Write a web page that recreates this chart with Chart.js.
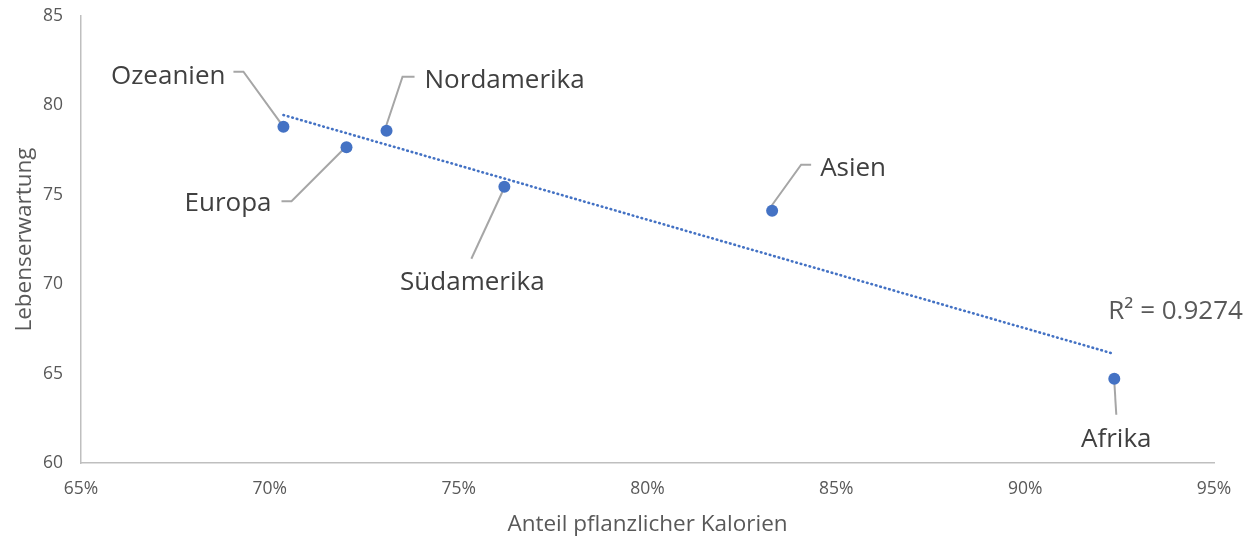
<!DOCTYPE html>
<html lang="de">
<head>
<meta charset="utf-8">
<title>Lebenserwartung und Anteil pflanzlicher Kalorien</title>
<script src="https://cdn.jsdelivr.net/npm/chart.js@4.4.1/dist/chart.umd.min.js"></script>
<style>
  html, body { margin: 0; padding: 0; background: #ffffff; }
  #wrap { width: 1256px; height: 538px; }
</style>
</head>
<body>
<div id="wrap"><canvas id="chart" width="1256" height="538"></canvas></div>
<script>
// Regions and their values
const regions = ['Ozeanien', 'Europa', 'Nordamerika', 'Südamerika', 'Asien', 'Afrika'];
const plantShare = [70.36, 72.03, 73.09, 76.21, 83.30, 92.36];      // Anteil pflanzlicher Kalorien (%)
const lifeExpectancy = [78.81, 77.66, 78.58, 75.45, 74.11, 64.71];  // Lebenserwartung (Jahre)

// Axis ticks and texts
const xTickValues = [65, 70, 75, 80, 85, 90, 95];
const yTickValues = [60, 65, 70, 75, 80, 85];
const xTitle = 'Anteil pflanzlicher Kalorien';
const yTitle = 'Lebenserwartung';
const rSquaredText = 'R² = 0.9274';

// Least-squares linear trend across the data range
function linearTrend(xs, ys) {
  const n = xs.length;
  const mx = xs.reduce((a, b) => a + b, 0) / n;
  const my = ys.reduce((a, b) => a + b, 0) / n;
  let sxy = 0, sxx = 0;
  for (let i = 0; i < n; i++) {
    sxy += (xs[i] - mx) * (ys[i] - my);
    sxx += (xs[i] - mx) * (xs[i] - mx);
  }
  const slope = sxy / sxx;
  const icpt = my - slope * mx;
  const x0 = Math.min(...xs), x1 = Math.max(...xs);
  return [{ x: x0, y: icpt + slope * x0 }, { x: x1, y: icpt + slope * x1 }];
}

const BLUE = '#4472C4';
const TEXT_DARK = '#404040';
const TEXT_GREY = '#595959';
const AXIS_GREY = '#bfbfbf';
const LEADER_GREY = '#a6a6a6';
const FONT = '"Open Sans", "Noto Sans", sans-serif';

// Label placement relative to each point (pixels): leader path and text anchor
const labelLayout = {
  'Ozeanien':    { leader: [[-3, -4], [-40, -55], [-50, -55]], tx: -58, ty: -52, align: 'right' },
  'Europa':      { leader: [[-4, 3], [-55, 54], [-65, 54]],    tx: -75, ty: 54,  align: 'right' },
  'Nordamerika': { leader: [[-1, -3], [16, -54], [28, -54]],   tx: 38,  ty: -52, align: 'left' },
  'Südamerika':  { leader: [[-1, 3], [-33, 72]],               tx: -32, ty: 94,  align: 'center' },
  'Asien':       { leader: [[-2, -3], [29, -46], [39, -46]],   tx: 48,  ty: -44, align: 'left' },
  'Afrika':      { leader: [[0, 3], [2, 36]],                  tx: 2,   ty: 59,  align: 'center' }
};
const LABEL_SIZE = 26;
const TITLE_SIZE = 22.5;
const TICK_SIZE = 17.5;

const pointData = plantShare.map((x, i) => ({ x: x, y: lifeExpectancy[i] }));
const trendData = linearTrend(plantShare, lifeExpectancy);

// Draws leader lines, data labels, the R² label and axis titles
const annotations = {
  id: 'annotations',
  beforeDatasetsDraw(chart) {
    const ctx = chart.ctx;
    const meta = chart.getDatasetMeta(0);
    ctx.save();
    ctx.strokeStyle = LEADER_GREY;
    ctx.lineWidth = 2;
    ctx.lineJoin = 'miter';
    regions.forEach((name, i) => {
      const p = meta.data[i];
      const cfg = labelLayout[name];
      ctx.beginPath();
      cfg.leader.forEach(([dx, dy], k) => {
        if (k === 0) ctx.moveTo(p.x + dx, p.y + dy);
        else ctx.lineTo(p.x + dx, p.y + dy);
      });
      ctx.stroke();
    });
    ctx.restore();
  },
  afterDatasetsDraw(chart) {
    const ctx = chart.ctx;
    const meta = chart.getDatasetMeta(0);
    const area = chart.chartArea;
    ctx.save();
    // data labels
    ctx.font = LABEL_SIZE + 'px ' + FONT;
    ctx.fillStyle = TEXT_DARK;
    ctx.textBaseline = 'alphabetic';
    regions.forEach((name, i) => {
      const p = meta.data[i];
      const cfg = labelLayout[name];
      ctx.textAlign = cfg.align;
      ctx.fillText(name, p.x + cfg.tx, p.y + cfg.ty + LABEL_SIZE * 0.357);
    });
    // R² next to the end of the trend line
    const tMeta = chart.getDatasetMeta(1);
    const endPt = tMeta.data[tMeta.data.length - 1];
    ctx.fillStyle = TEXT_GREY;
    ctx.textAlign = 'left';
    ctx.fillText(rSquaredText, endPt.x - 6, endPt.y - 44 + LABEL_SIZE * 0.357);
    // axis titles
    ctx.font = TITLE_SIZE + 'px ' + FONT;
    ctx.fillStyle = TEXT_GREY;
    ctx.textAlign = 'center';
    ctx.fillText(xTitle, (area.left + area.right) / 2, 523 + TITLE_SIZE * 0.357);
    ctx.translate(23, (area.top + area.bottom) / 2);
    ctx.rotate(-Math.PI / 2);
    ctx.fillText(yTitle, 0, TITLE_SIZE * 0.357);
    ctx.restore();
  }
};

new Chart(document.getElementById('chart'), {
  type: 'scatter',
  data: {
    datasets: [
      {
        label: 'Regionen',
        data: pointData,
        backgroundColor: BLUE,
        borderColor: BLUE,
        pointRadius: 6,
        pointHoverRadius: 6,
        borderWidth: 0,
        order: 1
      },
      {
        label: 'Trend',
        data: trendData,
        showLine: true,
        borderColor: BLUE,
        borderWidth: 2.6,
        borderDash: [0.6, 4],
        borderCapStyle: 'round',
        pointRadius: 0,
        fill: false,
        order: 2
      }
    ]
  },
  options: {
    responsive: false,
    devicePixelRatio: 1,
    animation: false,
    events: [],
    layout: { padding: { top: 16, right: 42, left: 0, bottom: 0 } },
    plugins: {
      legend: { display: false },
      tooltip: { enabled: false },
      title: { display: false }
    },
    scales: {
      x: {
        type: 'linear',
        min: 65,
        max: 95,
        afterBuildTicks: (scale) => { scale.ticks = xTickValues.map(v => ({ value: v })); },
        afterFit: (scale) => { scale.height = 75; },
        ticks: {
          color: TEXT_GREY,
          font: { family: FONT, size: TICK_SIZE },
          padding: 16,
          maxRotation: 0,
          callback: (v) => v + '%'
        },
        grid: { display: false, drawTicks: false },
        border: { display: true, color: AXIS_GREY, width: 1.5 }
      },
      y: {
        type: 'linear',
        min: 60,
        max: 85,
        afterBuildTicks: (scale) => { scale.ticks = yTickValues.map(v => ({ value: v })); },
        afterFit: (scale) => { scale.width = 81; scale.paddingTop = 0; scale.paddingBottom = 0; },
        ticks: {
          color: TEXT_GREY,
          font: { family: FONT, size: TICK_SIZE },
          padding: 18
        },
        grid: { display: false, drawTicks: false },
        border: { display: true, color: AXIS_GREY, width: 1.5 }
      }
    }
  },
  plugins: [annotations]
});
</script>
</body>
</html>
